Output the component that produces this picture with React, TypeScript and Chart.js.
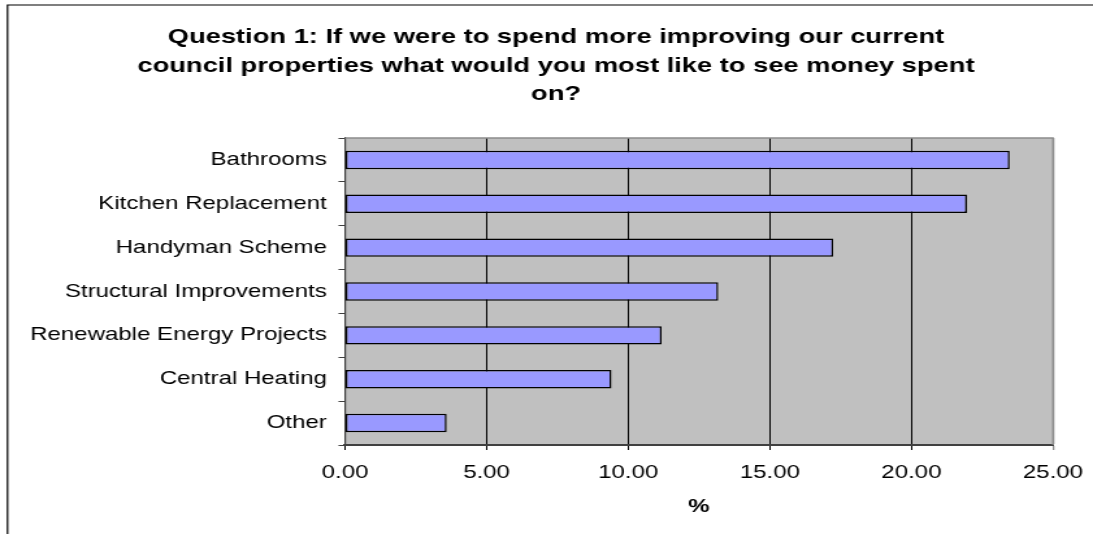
import React, { useEffect, useRef } from 'react';
import { Chart, registerables } from 'chart.js';

Chart.register(...registerables);

const categories = [
  'Bathrooms',
  'Kitchen Replacement',
  'Handyman Scheme',
  'Structural Improvements',
  'Renewable Energy Projects',
  'Central Heating',
  'Other',
];
const values = [23.47, 21.96, 17.24, 13.18, 11.18, 9.41, 3.59];
const titleLines = [
  'Question 1: If we were to spend more improving our current',
  'council properties what would you most like to see money spent',
  'on?',
];
const xAxisTitle = '%';
const xMin = 0;
const xMax = 25;
const xStep = 5;

const W = 841;
const H = 534;
const SX = 1093 / W;
const FONT = "'Liberation Sans', Arial, Helvetica, sans-serif";

const PLOT_LEFT = 345 / SX;
const PLOT_RIGHT = 1053 / SX;
const PLOT_TOP = 138;
const PAD_RIGHT = W - PLOT_RIGHT;
const TITLE_CX = 556 / SX;
const TITLE_Y0 = 37.5;
const TITLE_LH = 28.5;

const decorPlugin = {
  id: 'decor',
  beforeDraw(chart: any) {
    const { ctx, chartArea: a } = chart;
    ctx.save();
    ctx.fillStyle = '#ffffff';
    ctx.fillRect(0, 0, chart.width, chart.height);
    ctx.fillStyle = '#C0C0C0';
    ctx.fillRect(a.left, a.top, a.right - a.left, a.bottom - a.top);
    // outer frame (left + top visible)
    ctx.strokeStyle = '#000000';
    ctx.lineWidth = 1.2;
    ctx.beginPath();
    ctx.moveTo(5.8, chart.height);
    ctx.lineTo(5.8, 5);
    ctx.lineTo(chart.width, 5);
    ctx.stroke();
    // chart title
    ctx.fillStyle = '#000000';
    ctx.font = `bold 21px ${FONT}`;
    ctx.textAlign = 'center';
    ctx.textBaseline = 'middle';
    titleLines.forEach((line, i) => {
      ctx.fillText(line, TITLE_CX, TITLE_Y0 + i * TITLE_LH);
    });
    ctx.restore();
  },
  afterDraw(chart: any) {
    const { ctx, chartArea: a } = chart;
    ctx.save();
    ctx.strokeStyle = '#8C8C8C';
    ctx.lineWidth = 1.3;
    ctx.beginPath();
    ctx.moveTo(a.left, a.top);
    ctx.lineTo(a.right, a.top);
    ctx.lineTo(a.right, a.bottom);
    ctx.stroke();
    ctx.restore();
  },
};

export default function App() {
  const ref = useRef<HTMLCanvasElement | null>(null);

  useEffect(() => {
    if (!ref.current) return;
    const chart = new Chart(ref.current, {
      type: 'bar',
      data: {
        labels: categories,
        datasets: [
          {
            data: values,
            backgroundColor: '#9999FF',
            borderColor: '#000000',
            borderWidth: 1.5,
            borderSkipped: false,
            categoryPercentage: 1,
            barPercentage: 0.42,
          },
        ],
      },
      options: {
        indexAxis: 'y',
        responsive: false,
        animation: false,
        devicePixelRatio: 1,
        layout: { padding: { left: 0, right: PAD_RIGHT, top: PLOT_TOP, bottom: 0 } },
        plugins: {
          legend: { display: false },
          tooltip: { enabled: false },
          title: { display: false },
        },
        scales: {
          x: {
            type: 'linear',
            min: xMin,
            max: xMax,
            afterFit(scale: any) {
              scale.height = 89;
              scale.paddingLeft = 0;
              scale.paddingRight = 0;
            },
            ticks: {
              stepSize: xStep,
              color: '#000000',
              font: { family: FONT, size: 18.5 },
              padding: 12,
              maxRotation: 0,
              callback: (v: any) => Number(v).toFixed(2),
            },
            grid: {
              drawTicks: true,
              tickLength: 5,
              color: (c: any) => (c.tick && c.tick.value === xMax ? '#8C8C8C' : '#000000'),
              lineWidth: (c: any) => (c.tick && c.tick.value === xMax ? 1.3 : 1),
            },
            border: { display: true, color: '#404040', width: 2 },
            title: {
              display: true,
              text: xAxisTitle,
              color: '#000000',
              font: { family: FONT, size: 18.5, weight: 'bold' },
              padding: { top: 0, bottom: 16 },
            },
          },
          y: {
            type: 'category',
            afterFit(scale: any) {
              scale.width = PLOT_LEFT;
              scale.paddingTop = 0;
              scale.paddingBottom = 0;
            },
            ticks: {
              color: '#000000',
              font: { family: FONT, size: 18.5 },
              padding: 9,
              autoSkip: false,
            },
            grid: {
              offset: true,
              drawOnChartArea: false,
              drawTicks: true,
              tickLength: 5,
              color: '#404040',
            },
            border: { display: true, color: '#404040', width: 1.2 },
          },
        },
      },
      plugins: [decorPlugin],
    } as any);
    return () => chart.destroy();
  }, []);

  return (
    <div
      style={{
        position: 'absolute',
        left: 0,
        top: 0,
        width: 1093,
        height: 534,
        overflow: 'hidden',
        background: '#ffffff',
      }}
    >
      <div style={{ transform: `scaleX(${SX})`, transformOrigin: '0 0', width: W, height: H }}>
        <canvas ref={ref} width={W} height={H} style={{ display: 'block', width: W, height: H }} />
      </div>
    </div>
  );
}
